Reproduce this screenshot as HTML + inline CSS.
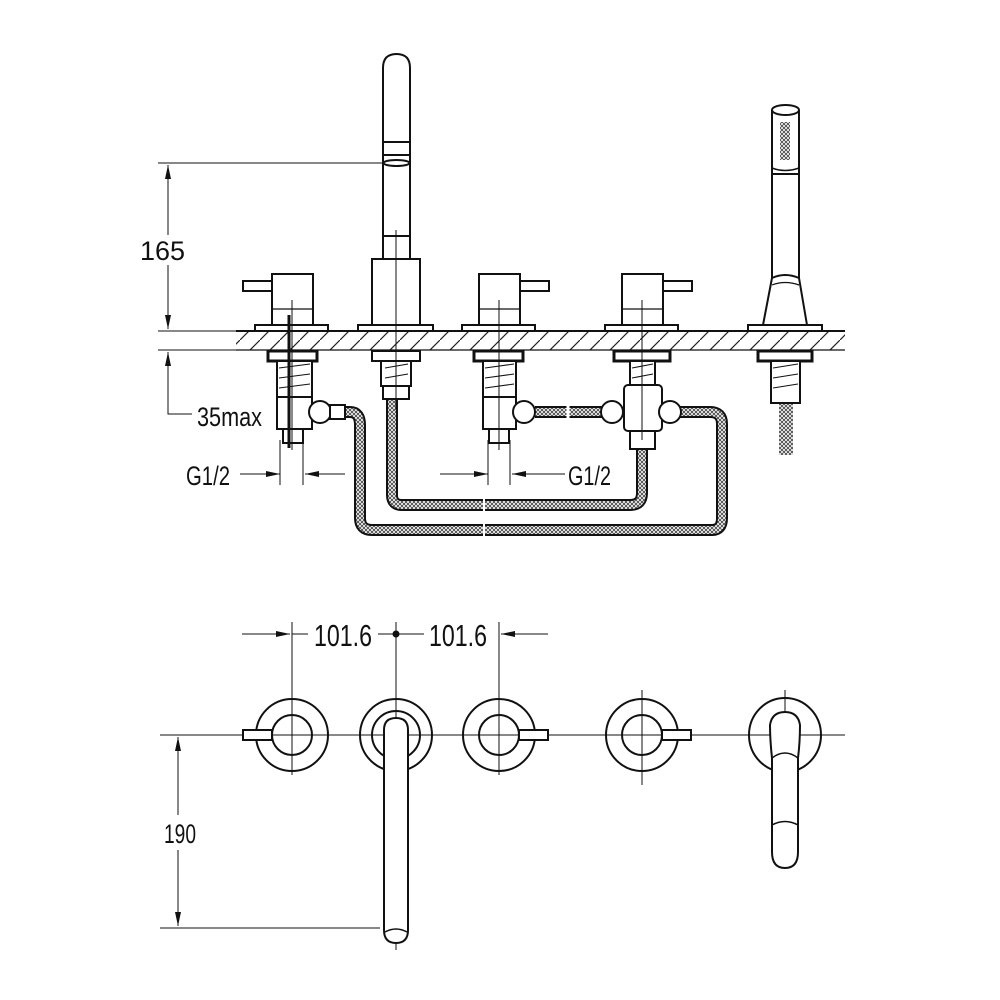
<!DOCTYPE html>
<html><head><meta charset="utf-8"><style>
html,body{margin:0;padding:0;background:#fff}
svg{display:block}
text{font-family:"Liberation Sans",sans-serif;fill:#111}
</style></head><body>
<svg width="1000" height="1000" viewBox="0 0 1000 1000" xmlns="http://www.w3.org/2000/svg">
<defs>
<pattern id="h" width="20" height="20" patternUnits="userSpaceOnUse">
<path d="M-5,25 L25,-5" stroke="#222" stroke-width="1.2"/>
</pattern>
<pattern id="x" width="4" height="4" patternUnits="userSpaceOnUse">
<rect width="4" height="4" fill="#fff"/><path d="M0,0L4,4M4,0L0,4" stroke="#444" stroke-width="0.9"/>
</pattern>
<marker id="a" markerWidth="14" markerHeight="6" refX="14" refY="3" orient="auto" markerUnits="userSpaceOnUse"><path d="M0,0 L14,3 L0,6 z" fill="#111"/></marker>
</defs>
<g fill="none" stroke="#111" stroke-width="2">
<rect x="236" y="331" width="609" height="19" fill="url(#h)" stroke="none"/>
<line x1="236" y1="331" x2="845" y2="331"/>
<line x1="236" y1="350" x2="845" y2="350" stroke-width="1.2"/>
<g stroke-width="1">
<line x1="158" y1="163" x2="385" y2="163"/>
<line x1="158" y1="331" x2="236" y2="331"/>
<line x1="158" y1="350" x2="236" y2="350"/>
<line x1="168" y1="235" x2="168" y2="165" marker-end="url(#a)"/>
<line x1="168" y1="265" x2="168" y2="329" marker-end="url(#a)"/>
<line x1="168" y1="405" x2="168" y2="352" marker-end="url(#a)"/>
<polyline points="168,405 168,414 192,414"/>
<line x1="240" y1="474" x2="280" y2="474" marker-end="url(#a)"/>
<line x1="345" y1="474" x2="305" y2="474" marker-end="url(#a)"/>
<line x1="280" y1="440" x2="280" y2="485"/><line x1="303" y1="440" x2="303" y2="485"/>
<line x1="440" y1="474" x2="488" y2="474" marker-end="url(#a)"/>
<line x1="565" y1="474" x2="512" y2="474" marker-end="url(#a)"/>
<line x1="488" y1="440" x2="488" y2="485"/><line x1="510" y1="440" x2="510" y2="485"/>
</g>
<g stroke-linecap="butt" stroke-linejoin="round">
<path d="M345,412 H350 Q360,412 360,425 V518 Q360,530 372,530 H712 Q722,530 722,518 V424 Q722,412 710,412 H678" stroke="#111" stroke-width="12"/>
<path d="M345,412 H350 Q360,412 360,425 V518 Q360,530 372,530 H712 Q722,530 722,518 V424 Q722,412 710,412 H678" stroke="url(#x)" stroke-width="8"/>
<path d="M392,398 V495 Q392,505 402,505 H630 Q642,505 642,493 V450" stroke="#111" stroke-width="12"/>
<path d="M392,398 V495 Q392,505 402,505 H630 Q642,505 642,493 V450" stroke="url(#x)" stroke-width="8"/>
<path d="M535,412 H608" stroke="#111" stroke-width="12"/>
<path d="M535,412 H608" stroke="url(#x)" stroke-width="8"/>
<path d="M786,403 V455" stroke="url(#x)" stroke-width="14"/>
<line x1="484" y1="496" x2="484" y2="540" stroke="#fff" stroke-width="2"/>
<line x1="568" y1="403" x2="568" y2="421" stroke="#fff" stroke-width="3"/>
</g>
<path d="M383,260 V68 Q383,54 396.5,54 Q410,54 410,68 V260" fill="#fff"/>
<line x1="383" y1="142" x2="410" y2="142"/><line x1="383" y1="155" x2="410" y2="155"/>
<ellipse cx="396.5" cy="163" rx="13" ry="3"/>
<line x1="383" y1="236" x2="410" y2="236"/>
<rect x="372" y="259" width="48" height="66" fill="#fff"/>
<rect x="358" y="325" width="75" height="6" fill="#fff"/>
<g id="v">
<rect x="272" y="274" width="41" height="51" fill="#fff"/>
<line x1="272" y1="309" x2="313" y2="309" stroke-width="1.2"/>
<rect x="255" y="325" width="73" height="6" fill="#fff"/>
</g>
<rect x="243" y="281" width="29" height="10" fill="#fff"/>
<use href="#v" x="207"/>
<rect x="520" y="281" width="29" height="10" fill="#fff"/>
<use href="#v" x="350"/>
<rect x="663" y="281" width="29" height="10" fill="#fff"/>
<path d="M772,110 V278 M799,110 V278" />
<ellipse cx="785.5" cy="110" rx="13.5" ry="5" fill="#fff"/>
<path d="M772,168 Q785,173 799,168" stroke-width="1.5"/>
<line x1="772" y1="174" x2="799" y2="174"/>
<rect x="780" y="122" width="10" height="38" fill="url(#x)" stroke="none"/>
<path d="M772,278 Q785,272 799,278 L807,325 H763 Z" fill="#fff"/>
<path d="M772,285 Q785,280 799,285" stroke-width="1.2"/>
<rect x="748" y="325" width="74" height="6" fill="#fff"/>
<g fill="#fff">
<rect x="268" y="351" width="49" height="10" stroke-width="3"/>
<rect x="277" y="361" width="35" height="36"/>
<rect x="277" y="397" width="35" height="32"/>
<rect x="283" y="429" width="20" height="14"/>
<circle cx="320" cy="412" r="11"/><rect x="330" y="405" width="15" height="14"/>
<rect x="372" y="351" width="48" height="10"/>
<rect x="381" y="361" width="30" height="25"/>
<rect x="383" y="386" width="26" height="13"/>
<rect x="474" y="351" width="49" height="10" stroke-width="3"/>
<rect x="483" y="361" width="33" height="36"/>
<rect x="483" y="397" width="33" height="32"/>
<rect x="489" y="429" width="20" height="14"/>
<circle cx="524" cy="412" r="11"/>
<circle cx="612" cy="412" r="11"/>
<rect x="614" y="351" width="56" height="10" stroke-width="3"/>
<rect x="630" y="361" width="25" height="25"/>
<rect x="624" y="385" width="38" height="46" rx="4"/>
<circle cx="670" cy="412" r="11"/>
<rect x="630" y="431" width="25" height="18"/>
<rect x="758" y="351" width="54" height="10" stroke-width="3"/>
<rect x="771" y="361" width="29" height="42"/>
</g>
<g stroke-width="1">
<path d="M279,368 L310,364 M279,378 L310,374 M279,388 L310,384 M385,368 L408,364 M385,378 L408,374 M485,368 L514,364 M485,378 L514,374 M485,388 L514,384 M632,368 L653,364 M632,378 L653,374 M773,368 L798,364 M773,378 L798,374 M773,388 L798,384"/>
<line x1="292" y1="300" x2="292" y2="450"/>
<line x1="396" y1="230" x2="396" y2="410"/>
<line x1="499" y1="300" x2="499" y2="450"/>
<line x1="642" y1="300" x2="642" y2="440"/>
</g>
<line x1="289" y1="315" x2="289" y2="448" stroke-width="3"/>
<g stroke-width="1">
<line x1="160" y1="735" x2="845" y2="735"/>
<line x1="160" y1="928" x2="380" y2="928"/>
<line x1="178" y1="815" x2="178" y2="737" marker-end="url(#a)"/>
<line x1="178" y1="850" x2="178" y2="926" marker-end="url(#a)"/>
<line x1="242" y1="634" x2="290" y2="634" marker-end="url(#a)"/>
<line x1="292" y1="634" x2="308" y2="634"/>
<line x1="378" y1="634" x2="424" y2="634"/>
<line x1="548" y1="634" x2="501" y2="634" marker-end="url(#a)"/>
<line x1="292" y1="622" x2="292" y2="775"/>
<line x1="396" y1="622" x2="396" y2="950"/>
<line x1="499" y1="622" x2="499" y2="775"/>
<line x1="642" y1="690" x2="642" y2="785"/>
<line x1="785" y1="690" x2="785" y2="775"/>
</g>
<circle cx="396" cy="634" r="2.5" fill="#111"/>
<g fill="none">
<circle cx="292" cy="735" r="36"/><circle cx="292" cy="735" r="20"/>
<circle cx="499" cy="735" r="36"/><circle cx="499" cy="735" r="20"/>
<circle cx="642" cy="735" r="36"/><circle cx="642" cy="735" r="20"/>
<circle cx="396" cy="735" r="36"/><circle cx="396" cy="735" r="24"/>
<ellipse cx="785" cy="735" rx="36" ry="37"/>
</g>
<rect x="243" y="730" width="29" height="10" fill="#fff"/>
<rect x="519" y="730" width="29" height="10" fill="#fff"/>
<rect x="662" y="730" width="29" height="10" fill="#fff"/>
<path d="M384,930 V730 Q384,718 396,718 Q408,718 408,730 V930 Q408,943 396,943 Q384,943 384,930 Z" fill="#fff"/>
<path d="M385,932 Q396,926 407,932" stroke-width="1.5"/>
<path d="M772,852 V758 Q770,740 770,725 Q772,712 785,712 Q798,712 800,725 Q800,742 798,758 V852" fill="#fff"/>
<path d="M772,758 Q785,748 798,758" stroke-width="1.5"/>
<path d="M772,825 Q785,818 798,825" stroke-width="1.5"/>
<path d="M772,852 Q772,868 785,868 Q798,868 798,852" fill="#fff"/>
</g>
<g font-size="27">
<text x="140" y="260" textLength="45" lengthAdjust="spacingAndGlyphs">165</text>
<text x="197" y="426" textLength="65" lengthAdjust="spacingAndGlyphs">35max</text>
<text x="186" y="485" textLength="44" lengthAdjust="spacingAndGlyphs">G1/2</text>
<text x="568" y="485" textLength="43" lengthAdjust="spacingAndGlyphs">G1/2</text>
<text x="314" y="646" font-size="31" textLength="58" lengthAdjust="spacingAndGlyphs">101.6</text>
<text x="429" y="646" font-size="31" textLength="58" lengthAdjust="spacingAndGlyphs">101.6</text>
<text x="164" y="843" textLength="32" lengthAdjust="spacingAndGlyphs">190</text>
</g>
</svg>
</body></html>
